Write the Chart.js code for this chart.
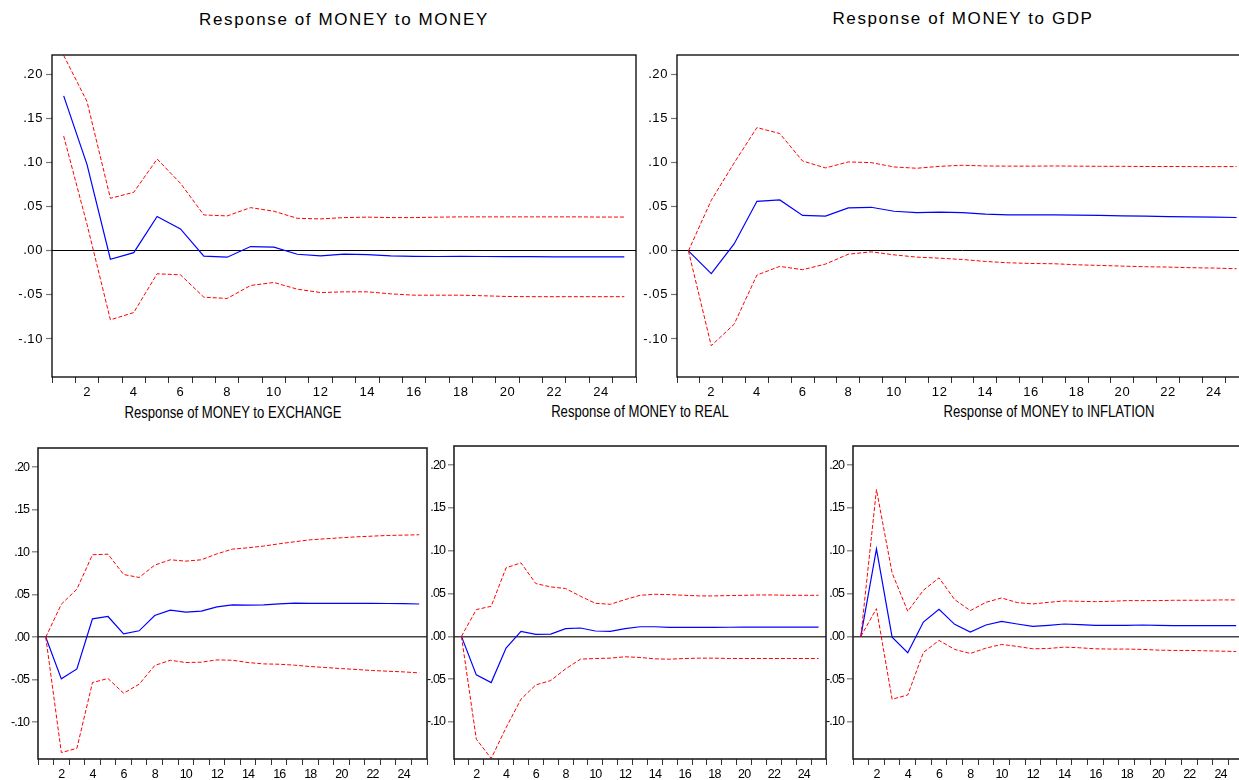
<!DOCTYPE html>
<html lang="en">
<head>
<meta charset="utf-8">
<title>Impulse responses of MONEY</title>
<script src="https://cdn.jsdelivr.net/npm/chart.js@4.4.3/dist/chart.umd.min.js"></script>
<style>
  html, body {
    margin: 0;
    padding: 0;
    background: #fff;
    overflow: hidden;
  }
  #board {
    position: relative;
    width: 1239px;
    height: 780px;
    overflow: hidden;
    background: #fff;
  }
  #board canvas {
    position: absolute;
  }
  .ttl {
    position: absolute;
    width: 420px;
    text-align: center;
    white-space: nowrap;
    color: #000;
  }
  .ttl.big {
    font: 17px "Liberation Sans", Arial, sans-serif;
    letter-spacing: 1.6px;
    line-height: 20px;
  }
  .ttl.narrow {
    font: 16px "Liberation Sans", Arial, sans-serif;
    line-height: 20px;
    transform: scaleX(0.82);
    transform-origin: 50% 50%;
  }
</style>
</head>
<body>
<div id="board"></div>

<script>
// horizon 1..25
const periods = Array.from({ length: 25 }, (_, i) => String(i + 1));
const yTicks = [-0.10, -0.05, 0, 0.05, 0.10, 0.15, 0.20];
const yMin = -0.1432;
const yMax = 0.2224;

// Response of MONEY to MONEY
const moneyResp = [0.176, 0.098, -0.0095, -0.002, 0.039, 0.025, -0.006, -0.0072, 0.0049, 0.0042, -0.0038, -0.0057, -0.0038, -0.0042, -0.0057, -0.0062, -0.0064, -0.0062, -0.0064, -0.0066, -0.0066, -0.0067, -0.0067, -0.0067, -0.0068];
const moneyHigh = [0.222, 0.1694, 0.0597, 0.0665, 0.1043, 0.0767, 0.0408, 0.0397, 0.0491, 0.045, 0.037, 0.0363, 0.0378, 0.0383, 0.0378, 0.0378, 0.0383, 0.0386, 0.0386, 0.0386, 0.0386, 0.0386, 0.0386, 0.0384, 0.0384];
const moneyLow = [0.1304, 0.03, -0.0783, -0.070, -0.026, -0.0272, -0.0526, -0.054, -0.0393, -0.0359, -0.0435, -0.0473, -0.0465, -0.0465, -0.0488, -0.0503, -0.0503, -0.0503, -0.051, -0.0518, -0.052, -0.052, -0.052, -0.052, -0.052];

// Response of MONEY to GDP
const gdpResp = [0, -0.0259, 0.0079, 0.0563, 0.0578, 0.0402, 0.0394, 0.0488, 0.0495, 0.045, 0.0435, 0.0439, 0.0435, 0.0417, 0.0409, 0.0409, 0.0409, 0.0405, 0.0402, 0.0398, 0.0394, 0.039, 0.0387, 0.0383, 0.0379];
const gdpHigh = [0, 0.0574, 0.0998, 0.14, 0.1332, 0.102, 0.0942, 0.101, 0.1002, 0.0953, 0.0938, 0.096, 0.0972, 0.0964, 0.0962, 0.0962, 0.0964, 0.0962, 0.096, 0.096, 0.0958, 0.0958, 0.0957, 0.0957, 0.0957];
const gdpLow = [0, -0.1077, -0.0833, -0.0274, -0.0176, -0.0214, -0.015, -0.0038, -0.0011, -0.0045, -0.0071, -0.0083, -0.0098, -0.012, -0.0135, -0.0143, -0.0146, -0.0158, -0.0165, -0.0173, -0.018, -0.0184, -0.0191, -0.0195, -0.0203];

// Response of MONEY to EXCHANGE
const exchResp = [0, -0.049, -0.0373, 0.0216, 0.0243, 0.0039, 0.0075, 0.0255, 0.0318, 0.0294, 0.0306, 0.0357, 0.038, 0.0376, 0.038, 0.0392, 0.04, 0.0398, 0.0398, 0.0398, 0.0398, 0.0398, 0.0396, 0.0394, 0.039];
const exchHigh = [0, 0.0388, 0.0565, 0.0969, 0.0976, 0.0737, 0.0702, 0.0847, 0.091, 0.0894, 0.091, 0.098, 0.1035, 0.1051, 0.1071, 0.1098, 0.1122, 0.1145, 0.1157, 0.1169, 0.118, 0.1188, 0.1196, 0.12, 0.1204];
const exchLow = [0, -0.1357, -0.1306, -0.0533, -0.0486, -0.0659, -0.0553, -0.0333, -0.0271, -0.0298, -0.0294, -0.0267, -0.0271, -0.0298, -0.0314, -0.0318, -0.0329, -0.0345, -0.0357, -0.0369, -0.038, -0.0392, -0.04, -0.0408, -0.042];

// Response of MONEY to REAL
const realResp = [0, -0.0449, -0.0539, -0.0137, 0.0059, 0.0023, 0.0027, 0.009, 0.0098, 0.0063, 0.0059, 0.009, 0.0113, 0.0113, 0.0105, 0.0105, 0.0105, 0.0105, 0.0107, 0.0108, 0.0109, 0.0109, 0.0109, 0.0108, 0.0108];
const realHigh = [0, 0.0313, 0.0352, 0.0801, 0.0859, 0.0617, 0.0578, 0.0559, 0.0469, 0.0387, 0.0375, 0.043, 0.048, 0.0492, 0.0488, 0.048, 0.0473, 0.0473, 0.0477, 0.048, 0.0484, 0.0484, 0.048, 0.048, 0.048];
const realLow = [0, -0.12, -0.1426, -0.1066, -0.0734, -0.0566, -0.0516, -0.0379, -0.0266, -0.0258, -0.0254, -0.0238, -0.0246, -0.0262, -0.0266, -0.0258, -0.0254, -0.0254, -0.0258, -0.0258, -0.0258, -0.0258, -0.0258, -0.0258, -0.0258];

// Response of MONEY to INFLATION
const inflResp = [0, 0.1023, -0.0008, -0.0191, 0.0168, 0.0316, 0.0141, 0.0051, 0.0133, 0.0176, 0.0145, 0.0117, 0.0129, 0.0145, 0.0137, 0.0129, 0.0129, 0.0129, 0.0133, 0.0129, 0.0127, 0.0127, 0.0127, 0.0127, 0.0125];
const inflHigh = [0, 0.1715, 0.0742, 0.0293, 0.0539, 0.0684, 0.043, 0.0301, 0.0398, 0.0449, 0.0395, 0.0379, 0.0398, 0.0414, 0.041, 0.0406, 0.041, 0.0418, 0.0418, 0.0418, 0.0422, 0.0422, 0.0422, 0.0426, 0.0426];
const inflLow = [0, 0.0324, -0.0734, -0.0684, -0.0188, -0.0047, -0.0152, -0.0199, -0.0137, -0.0094, -0.0117, -0.0145, -0.0141, -0.0125, -0.0133, -0.0145, -0.0148, -0.0148, -0.0152, -0.016, -0.0164, -0.0164, -0.0168, -0.0172, -0.0176];

// plot boxes on the board: [left, top, right, bottom]
const panels = [
  { box: [52, 55, 636, 377], resp: moneyResp, low: moneyLow, high: moneyHigh, wide: true },
  { box: [677, 55, 1248, 377], resp: gdpResp, low: gdpLow, high: gdpHigh, wide: true },
  { box: [38, 448, 427, 759], resp: exchResp, low: exchLow, high: exchHigh, wide: false },
  { box: [454, 446, 826, 759], resp: realResp, low: realLow, high: realHigh, wide: false },
  { box: [853, 446, 1244, 759], resp: inflResp, low: inflLow, high: inflHigh, wide: false }
];

const titles = [
  { text: 'Response of MONEY to MONEY', cx: 344, cy: 20, cls: 'big' },
  { text: 'Response of MONEY to GDP', cx: 963, cy: 19, cls: 'big' },
  { text: 'Response of MONEY to EXCHANGE', cx: 233, cy: 413, cls: 'narrow' },
  { text: 'Response of MONEY to REAL', cx: 640, cy: 412, cls: 'narrow' },
  { text: 'Response of MONEY to INFLATION', cx: 1049, cy: 412, cls: 'narrow' }
];

const board = document.getElementById('board');

titles.forEach(t => {
  const d = document.createElement('div');
  d.className = 'ttl ' + t.cls;
  d.textContent = t.text;
  d.style.left = (t.cx - 210) + 'px';
  d.style.top = (t.cy - 10) + 'px';
  board.appendChild(d);
});

// closed box around the plot area, plus tick text spacing
const framePlugin = {
  id: 'frame',
  beforeDraw(chart, args, opts) {
    chart.ctx.letterSpacing = opts.spacing;
  },
  afterDraw(chart, args, opts) {
    const { left, top, right, bottom } = chart.chartArea;
    const ctx = chart.ctx;
    ctx.save();
    ctx.strokeStyle = opts.color;
    ctx.lineWidth = opts.width;
    ctx.strokeRect(left, top, right - left, bottom - top);
    ctx.restore();
  }
};

function fmtY(v) {
  return v.toFixed(2).replace(/^(-?)0\./, '$1.');
}

panels.forEach(p => {
  const [L, T, R, B] = p.box;
  const yW = p.wide ? 52 : 44;
  const xH = p.wide ? 30 : 28;
  const padTop = 14;
  const padRight = 6;

  const cv = document.createElement('canvas');
  cv.width = (R - L) + yW + padRight;
  cv.height = (B - T) + padTop + xH;
  cv.style.left = (L - yW) + 'px';
  cv.style.top = (T - padTop) + 'px';
  board.appendChild(cv);

  const tickFont = p.wide
    ? { family: '"Liberation Sans", Arial, sans-serif', size: 13 }
    : { family: '"Liberation Sans", Arial, sans-serif', size: 12.5 };

  new Chart(cv.getContext('2d'), {
    type: 'line',
    data: {
      labels: periods,
      datasets: [
        {
          data: p.high,
          borderColor: '#ff0000',
          borderWidth: 1,
          borderDash: [4, 2],
          pointRadius: 0,
          tension: 0,
          fill: false
        },
        {
          data: p.low,
          borderColor: '#ff0000',
          borderWidth: 1,
          borderDash: [4, 2],
          pointRadius: 0,
          tension: 0,
          fill: false
        },
        {
          data: p.resp,
          borderColor: '#0000ff',
          borderWidth: 1.2,
          pointRadius: 0,
          tension: 0,
          fill: false
        }
      ]
    },
    options: {
      responsive: false,
      animation: false,
      events: [],
      layout: { padding: { top: padTop, right: padRight, left: 0, bottom: 0 } },
      plugins: {
        legend: { display: false },
        tooltip: { enabled: false },
        frame: {
          color: p.wide ? '#000' : '#222',
          width: p.wide ? 1.3 : 1.6,
          spacing: p.wide ? '0.6px' : '-0.9px'
        }
      },
      scales: {
        x: {
          type: 'category',
          offset: true,
          border: { display: false },
          grid: {
            offset: true,
            drawOnChartArea: false,
            drawTicks: true,
            tickLength: 6,
            color: '#333',
            lineWidth: 1
          },
          ticks: {
            autoSkip: false,
            maxRotation: 0,
            padding: 2,
            color: '#000',
            font: tickFont,
            callback: (v, i) => ((i + 1) % 2 === 0 ? String(i + 1) : '')
          },
          afterFit: s => { s.height = xH; }
        },
        y: {
          min: yMin,
          max: yMax,
          border: { display: false },
          afterBuildTicks: s => { s.ticks = yTicks.map(v => ({ value: v })); },
          grid: {
            drawOnChartArea: true,
            drawTicks: true,
            tickLength: 6,
            color: ctx => (ctx.tick && Math.abs(ctx.tick.value) < 1e-9 ? (p.wide ? '#000' : '#444') : 'rgba(0,0,0,0)'),
            lineWidth: p.wide ? 1 : 1.6,
            tickColor: '#777',
            tickWidth: 1.2
          },
          ticks: {
            padding: 3,
            color: '#000',
            font: tickFont,
            callback: v => fmtY(v)
          },
          afterFit: s => { s.width = yW; }
        }
      }
    },
    plugins: [framePlugin]
  });
});
</script>
</body>
</html>
